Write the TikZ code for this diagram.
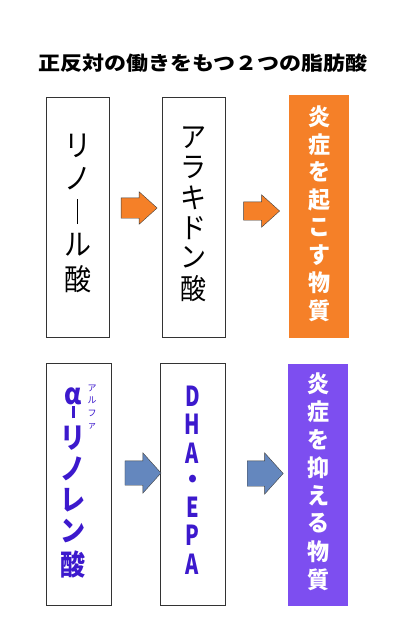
\documentclass[tikz,border=0pt]{standalone}
\usepackage{fontspec}
\usepackage{graphicx}
\usepackage{xcolor}
\usepackage{tikz}
\usetikzlibrary{shapes.arrows}

\newfontfamily\jp{Noto Sans CJK JP}

\definecolor{hotorange}{RGB}{245,128,40}
\definecolor{calmviolet}{RGB}{125,78,240}
\definecolor{fishblue}{RGB}{100,135,190}
\definecolor{inkviolet}{RGB}{60,25,205}

% one character per row, stretched a little in height
\newcommand{\tatestack}[4]{\scalebox{1}[#3]{\fontsize{#1}{#2}\selectfont
  \begin{tabular}{@{}c@{}}#4\end{tabular}}}
% long vowel mark / dash written downwards
\newcommand{\tatebar}[2]{\rule[\dimexpr.38em-#2/2\relax]{#1}{#2}}
\newcommand{\narrow}[1]{\scalebox{0.8}[1]{#1}}

\begin{document}
\begin{tikzpicture}[
  x=1pt, y=-1pt,
  font=\jp,
  acidbox/.style={draw=black!80, line width=0.8pt, minimum width=63pt,
                  minimum height=240pt, inner sep=0pt},
  effectbox/.style={fill=#1, minimum width=60pt, minimum height=242pt,
                    inner sep=0pt, text=white, font=\jp\bfseries},
  blockarrow/.style={single arrow, draw=black!75, fill=#1, inner xsep=0pt,
                     minimum height=36pt, single arrow head indent=0pt},
]
  \path[use as bounding box, fill=white] (0,0) rectangle (400,623);

  \node[font=\jp\bfseries\fontsize{22}{24}\selectfont] (title) at (203,63)
    {\scalebox{1}[0.88]{正反対の働きをもつ２つの脂肪酸}};

  % top row
  \node[acidbox] (linoleic) at (77.5,217)
    {\tatestack{27}{30}{1.1}{リ\\ノ\\\tatebar{1.8pt}{22.5pt}\\ル\\酸}};
  \node[acidbox] (arachidonic) at (193.5,217.5)
    {\tatestack{26}{25}{1.1}{ア\\ラ\\キ\\ド\\ン\\酸}};
  \node[effectbox=hotorange] (inflame) at (319,216.5)
    {\tatestack{22}{26}{1.05}{炎\\症\\を\\起\\こ\\す\\物\\質}};

  \node[blockarrow=hotorange, inner ysep=10pt, single arrow head extend=6pt,
        single arrow tip angle=84] (toparrowa) at (133.5,208) {};
  \node[blockarrow=hotorange, inner ysep=9pt, single arrow head extend=7pt,
        single arrow tip angle=84] (toparrowb) at (256.5,211) {};

  % bottom row
  \node[acidbox, minimum width=65pt, minimum height=242pt] (alphalinolenic) at (78.5,484)
    {\color{inkviolet}\bfseries
     \tatestack{25}{25.2}{1.15}{\textit{α}\\[-9pt]\tatebar{3pt}{11pt}\\[-5pt]リ\\ノ\\レ\\ン\\酸}%
     \hspace*{11pt}};
  \node[text=inkviolet, inner sep=0pt, align=center,
        font=\jp\fontsize{9}{12.5}\selectfont] (alpharuby) at (92,407)
    {ア\\ル\\フ\\ァ};
  \node[acidbox, minimum width=65pt, minimum height=242pt] (dhaepa) at (192.5,484)
    {\color{inkviolet}\bfseries
     \tatestack{25}{23.6}{1.1}{\narrow{D}\\\narrow{H}\\\narrow{A}\\・\\\narrow{E}\\\narrow{P}\\\narrow{A}}};
  \node[effectbox=calmviolet] (soothe) at (318,484.5)
    {\tatestack{22}{26.5}{1.05}{炎\\症\\を\\抑\\え\\る\\物\\質}};

  \node[blockarrow=fishblue, inner ysep=12pt, single arrow head extend=8pt,
        single arrow tip angle=96] (botarrowa) at (137.5,473) {};
  \node[blockarrow=fishblue, inner ysep=12.5pt, single arrow head extend=8pt,
        single arrow tip angle=96] (botarrowb) at (259.5,473.5) {};
\end{tikzpicture}
\end{document}
